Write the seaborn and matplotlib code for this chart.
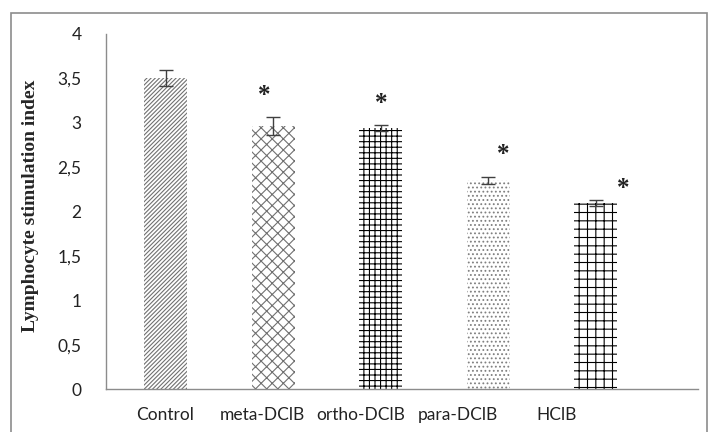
import numpy as np
import matplotlib
matplotlib.use('Agg')
import matplotlib.pyplot as plt
from matplotlib.patches import Rectangle
from matplotlib.ticker import FuncFormatter
import seaborn as sns

# data
categories = ['Control', 'meta-DClB', 'ortho-DClB', 'para-DClB', 'HClB']
means = [3.50, 2.96, 2.94, 2.35, 2.10]
errors = [0.09, 0.10, 0.03, 0.04, 0.035]
significant = [False, True, True, True, True]

# styling per bar
hatches = ['////////', 'xxx', '+++', '....', '++']
hatch_colors = ['#707070', '#707070', '#000000', '#808080', '#000000']
star_dx = [0, -0.085, 0.0, 0.14, 0.25]
star_dy = [0, 0.25, 0.25, 0.25, 0.125]

sns.set_style('white')
plt.rcParams['font.family'] = ['Lato', 'DejaVu Sans']
plt.rcParams['hatch.linewidth'] = 0.8

fig = plt.figure(figsize=(7.08, 4.32), dpi=100)
ax = fig.add_axes([0.1504, 0.0995, 0.8355, 0.8218])

sns.barplot(x=categories, y=means, ax=ax, width=0.4, color='white',
            linewidth=0, saturation=1, errorbar=None)

for bar, h, c in zip(ax.patches, hatches, hatch_colors):
    bar.set_hatch(h)
    bar.set_edgecolor(c)
    bar.set_linewidth(0)

x = np.arange(len(categories))
ax.errorbar(x, means, yerr=errors, fmt='none', ecolor='#404040',
            elinewidth=1, capsize=5, capthick=1)

for i, sig in enumerate(significant):
    if sig:
        ax.text(i + star_dx[i], means[i] + errors[i] + star_dy[i], '*',
                ha='center', va='center', fontsize=18, fontweight='bold',
                family=['Liberation Serif'], color='#222222')

ax.set_xlim(-0.553, 4.95)
ax.set_ylim(0, 4)
ax.set_yticks(np.arange(0, 4.01, 0.5))
ax.yaxis.set_major_formatter(FuncFormatter(
    lambda v, p: ('%g' % v).replace('.', ',')))
ax.set_xticks(x * 0.91 - 0.01)
ax.set_xticklabels(categories)
ax.tick_params(axis='both', length=0, labelsize=12.5, colors='#222222')
ax.tick_params(axis='y', pad=18)
ax.tick_params(axis='x', pad=13)

for side in ['top', 'right']:
    ax.spines[side].set_visible(False)
for side in ['left', 'bottom']:
    ax.spines[side].set_color('#8c8c8c')
    ax.spines[side].set_linewidth(1)

ax.set_ylabel('Lymphocyte stimulation index', family=['Liberation Serif'],
              fontweight='bold', fontsize=14)
ax.yaxis.set_label_coords(-0.114, 0.515)

# outer chart border
fig.patches.append(Rectangle((11 / 708, -0.05), 696 / 708, 1.05 - 13 / 432,
                             transform=fig.transFigure, fill=False,
                             edgecolor='#8c8c8c', linewidth=1.2))

fig.savefig('out.png', dpi=100)
